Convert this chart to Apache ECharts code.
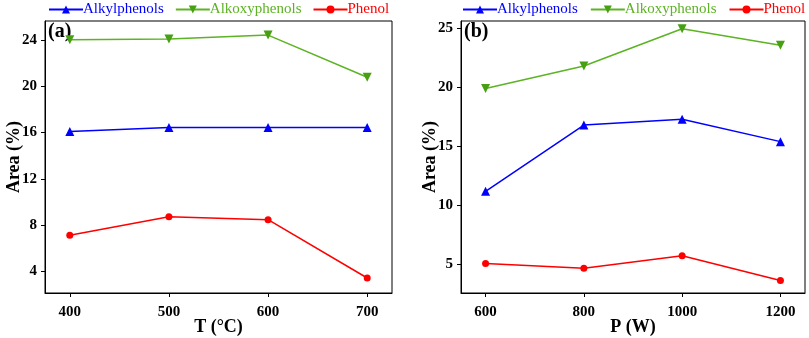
<!DOCTYPE html>
<html>
<head>
<meta charset="utf-8">
<script src="https://cdn.jsdelivr.net/npm/echarts@6/dist/echarts.min.js"></script>
<style>
  html, body { margin: 0; padding: 0; background: #fff; }
  #main { width: 809px; height: 338px; }
</style>
</head>
<body>
<div id="main"></div>
<script>
// panel (a): temperature
var tempTicks = [400, 500, 600, 700];
var alkylT = [16.1, 16.45, 16.45, 16.45];
var alkoxyT = [24.05, 24.1, 24.45, 20.8];
var phenolT = [7.1, 8.7, 8.45, 3.4];
var areaTicksA = [4, 8, 12, 16, 20, 24];

// panel (b): power
var powerTicks = [600, 800, 1000, 1200];
var alkylP = [11.2, 16.8, 17.3, 15.4];
var alkoxyP = [19.9, 21.8, 24.95, 23.55];
var phenolP = [5.1, 4.7, 5.75, 3.65];
var areaTicksB = [5, 10, 15, 20, 25];

var names = ['Alkylphenols', 'Alkoxyphenols', 'Phenol'];
var colors = ['#0000ff', '#5cb323', '#ff0000'];
var markColors = ['#0000ff', '#47a012', '#ff0000'];
var serif = '"Liberation Serif", "DejaVu Serif", serif';

function pairs(xs, ys) {
  return xs.map(function (x, i) { return [x, ys[i]]; });
}

function xAxis(idx, ticks, min, max, name) {
  return {
    type: 'value', gridIndex: idx, min: min, max: max,
    name: name, nameLocation: 'middle', nameGap: 25, nameMoveOverlap: false,
    nameTextStyle: { fontFamily: serif, fontWeight: 'bold', fontSize: 18, color: '#000' },
    axisLine: { lineStyle: { color: '#000', width: 1 } },
    axisTick: { show: true, length: 4, customValues: ticks, lineStyle: { color: '#000' } },
    axisLabel: {
      customValues: ticks, fontFamily: serif, fontWeight: 'bold', fontSize: 15, color: '#000', margin: 12,
      formatter: function (v) { return String(v); }
    },
    splitLine: { show: false }
  };
}

function yAxis(idx, ticks, min, max) {
  return {
    type: 'value', gridIndex: idx, min: min, max: max,
    name: 'Area (%)', nameLocation: 'middle', nameGap: 22, nameMoveOverlap: false,
    nameTextStyle: { fontFamily: serif, fontWeight: 'bold', fontSize: 18, color: '#000' },
    axisLine: { lineStyle: { color: '#000', width: 1 } },
    axisTick: { show: true, length: 4, customValues: ticks, lineStyle: { color: '#000' } },
    axisLabel: { customValues: ticks, fontFamily: serif, fontWeight: 'bold', fontSize: 15, color: '#000', margin: 8 },
    splitLine: { show: false }
  };
}

function series(idx, xs, data) {
  var sym = [['triangle', 9, 0], ['triangle', 9, 180], ['circle', 7, 0]];
  return data.map(function (ys, i) {
    return {
      name: names[i], type: 'line', xAxisIndex: idx, yAxisIndex: idx,
      data: pairs(xs, ys),
      symbol: sym[i][0], symbolSize: sym[i][1], symbolRotate: sym[i][2],
      color: colors[i],
      lineStyle: { width: 1.5, color: colors[i] },
      itemStyle: { color: markColors[i] },
      animation: false
    };
  });
}

function legend(left, gap) {
  return {
    data: names.map(function (n, i) {
      return { name: n, textStyle: { color: colors[i] } };
    }),
    left: left, top: -3, width: 370, itemGap: gap, itemWidth: 34, itemHeight: 10,
    padding: [5, 0, 5, 0],
    selectedMode: false,
    textStyle: { fontFamily: serif, fontSize: 15, padding: [0, 0, 0, -5] }
  };
}

var chart = echarts.init(document.getElementById('main'));
chart.setOption({
  backgroundColor: '#fff',
  legend: [legend(48, 11), legend(462, 12)],
  grid: [
    { left: 45, right: 417, top: 21, bottom: 45, show: true, borderColor: '#000', borderWidth: 1, outerBoundsMode: 'none' },
    { left: 461, right: 4, top: 21, bottom: 45, show: true, borderColor: '#000', borderWidth: 1, outerBoundsMode: 'none' }
  ],
  xAxis: [xAxis(0, tempTicks, 375, 725, 'T (°C)'), xAxis(1, powerTicks, 550, 1250, 'P (W)')],
  yAxis: [yAxis(0, areaTicksA, 2.1, 25.67), yAxis(1, areaTicksB, 2.6, 25.6)],
  graphic: [
    { type: 'text', left: 48, top: 22, style: { text: '(a)', font: 'bold 20px ' + serif, fill: '#000' } },
    { type: 'text', left: 464, top: 22, style: { text: '(b)', font: 'bold 20px ' + serif, fill: '#000' } }
  ],
  series: series(0, tempTicks, [alkylT, alkoxyT, phenolT])
    .concat(series(1, powerTicks, [alkylP, alkoxyP, phenolP]))
});
</script>
</body>
</html>
